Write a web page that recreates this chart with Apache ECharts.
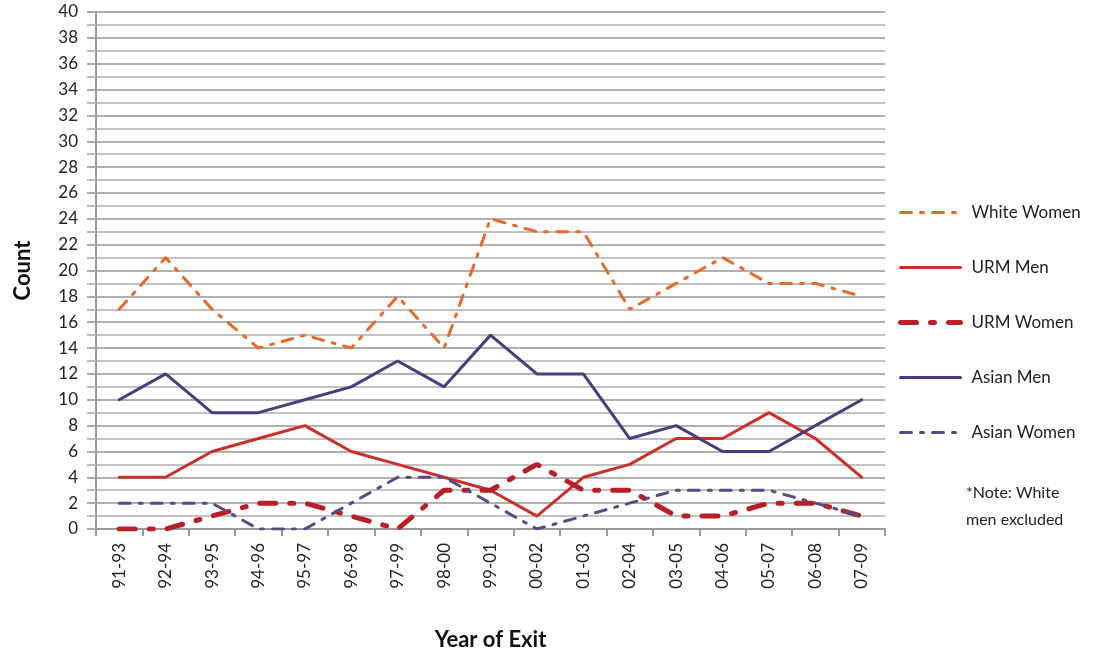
<!DOCTYPE html>
<html>
<head>
<meta charset="utf-8">
<script src="https://cdn.jsdelivr.net/npm/echarts@6/dist/echarts.min.js"></script>
<style>
  html, body { margin: 0; padding: 0; background: #fff; }
  #chart { width: 1115px; height: 662px; }
</style>
</head>
<body>
<div id="chart"></div>
<script>
// 年份（横轴）
const years = ["91-93", "92-94", "93-95", "94-96", "95-97", "96-98", "97-99", "98-00", "99-01",
    "00-02", "01-03", "02-04", "03-05", "04-06", "05-07", "06-08", "07-09"];

// 各组人数
const whiteWomen = [17, 21, 17, 14, 15, 14, 18, 14, 24, 23, 23, 17, 19, 21, 19, 19, 18];
const urmMen = [4, 4, 6, 7, 8, 6, 5, 4, 3, 1, 4, 5, 7, 7, 9, 7, 4];
const urmWomen = [0, 0, 1, 2, 2, 1, 0, 3, 3, 5, 3, 3, 1, 1, 2, 2, 1];
const asianMen = [10, 12, 9, 9, 10, 11, 13, 11, 15, 12, 12, 7, 8, 6, 6, 8, 10];
const asianWomen = [2, 2, 2, 0, 0, 2, 4, 4, 2, 0, 1, 2, 3, 3, 3, 2, 1];

(function () {
    let myChart = echarts.init(document.getElementById('chart'));
    const font = 'Lato, "Open Sans", sans-serif';

    function line(name, data, color, width, dash) {
        return {
            name: name,
            type: 'line',
            data: data,
            symbol: 'none',
            showSymbol: false,
            animation: false,
            lineStyle: { color: color, width: width, type: dash, cap: 'round' },
            itemStyle: { color: color }
        };
    }

    let option = {
        animation: false,
        grid: { left: 96, right: 230, top: 12, bottom: 133 },
        legend: {
            orient: 'vertical',
            left: 893,
            top: 199,
            itemWidth: 60,
            itemHeight: 14,
            itemGap: 38,
            // 只显示线，不显示圆点
            itemStyle: { opacity: 0, borderWidth: 0 },
            lineStyle: { width: 'inherit', type: 'inherit' },
            textStyle: { fontFamily: font, fontSize: 17, color: '#222', padding: [0, 0, 0, 6] },
            data: ['White Women', 'URM Men', 'URM Women', 'Asian Men', 'Asian Women']
        },
        xAxis: {
            type: 'category',
            data: years,
            boundaryGap: true,
            name: 'Year of Exit',
            nameLocation: 'middle',
            nameGap: 100,
            nameTextStyle: { fontFamily: font, fontSize: 22, fontWeight: 'bold', color: '#111' },
            axisLine: { lineStyle: { color: '#999', width: 2 } },
            axisTick: { show: true, length: 7, lineStyle: { color: '#999', width: 2 } },
            axisLabel: { rotate: 90, fontFamily: font, fontSize: 17, color: '#222', margin: 14 }
        },
        yAxis: {
            type: 'value',
            min: 0,
            max: 40,
            interval: 2,
            name: 'Count',
            nameLocation: 'middle',
            nameGap: 62,
            nameTextStyle: { fontFamily: font, fontSize: 22, fontWeight: 'bold', color: '#111' },
            axisLine: { show: true, lineStyle: { color: '#999', width: 2 } },
            axisTick: { show: true, length: 9, lineStyle: { color: '#aaa', width: 2 } },
            minorTick: { show: true, splitNumber: 2, length: 9, lineStyle: { color: '#bbb', width: 2 } },
            axisLabel: { fontFamily: font, fontSize: 17, color: '#222', margin: 18 },
            splitLine: { lineStyle: { color: '#b0b0b0', width: 2 } },
            minorSplitLine: { show: true, lineStyle: { color: '#c2c2c2', width: 2 } }
        },
        series: [
            line('White Women', whiteWomen, '#e8692a', 3, [11, 9, 3, 9]),
            line('URM Men', urmMen, '#c9302c', 3, 'solid'),
            line('URM Women', urmWomen, '#b81f27', 5, [16, 14, 4, 14]),
            line('Asian Men', asianMen, '#4d3b7d', 3, 'solid'),
            line('Asian Women', asianWomen, '#574a86', 3, [11, 9, 3, 9])
        ],
        graphic: [
            { type: 'text', left: 966, top: 485, style: { text: '*Note: White', fontFamily: font, fontSize: 16, fill: '#222' } },
            { type: 'text', left: 966, top: 512, style: { text: 'men excluded', fontFamily: font, fontSize: 16, fill: '#222' } }
        ]
    };

    myChart.setOption(option);
    window.addEventListener("resize", function () {
        myChart.resize();
    });
})();
</script>
</body>
</html>
